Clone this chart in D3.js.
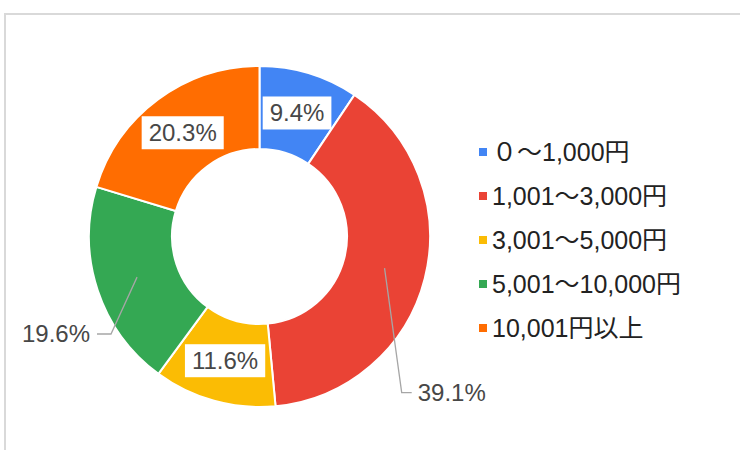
<!DOCTYPE html>
<html>
<head>
<meta charset="utf-8">
<script src="https://cdn.jsdelivr.net/npm/d3@7"></script>
<style>
  html, body { margin: 0; padding: 0; background: #fff; }
  svg { display: block; font-family: "Liberation Sans", Arial, "Noto Sans CJK JP", sans-serif; }
</style>
</head>
<body>
<svg id="chart" width="740" height="450"></svg>
<script>
const categories = ["０～1,000円", "1,001～3,000円", "3,001～5,000円", "5,001～10,000円", "10,001円以上"];
const values = [9.4, 39.1, 11.6, 19.6, 20.3];
const labels = ["9.4%", "39.1%", "11.6%", "19.6%", "20.3%"];
const colors = ["#4285F4", "#EA4335", "#FBBC04", "#34A853", "#FF6D01"];

const svg = d3.select("#chart");

// frame (top and left border)
svg.append("line").attr("x1", 5).attr("y1", 14).attr("x2", 740).attr("y2", 14)
  .attr("stroke", "#d9d9d9").attr("stroke-width", 2);
svg.append("line").attr("x1", 5).attr("y1", 13).attr("x2", 5).attr("y2", 450)
  .attr("stroke", "#d9d9d9").attr("stroke-width", 2);

const cx = 259.5, cy = 236.5, rOuter = 170.5, rInner = 87.5;
const g = svg.append("g").attr("transform", `translate(${cx},${cy})`);

const data = categories.map((c, i) => ({ cat: c, value: values[i], label: labels[i], color: colors[i] }));
const pie = d3.pie().value(d => d.value).sort(null);
const arcs = pie(data);
const arc = d3.arc().innerRadius(rInner).outerRadius(rOuter);
const midArc = d3.arc().innerRadius((rInner + rOuter) / 2).outerRadius((rInner + rOuter) / 2);

g.selectAll("path.slice").data(arcs).enter().append("path")
  .attr("class", "slice")
  .attr("d", arc)
  .attr("fill", d => d.data.color)
  .attr("stroke", "#fff")
  .attr("stroke-width", 2);

// labels
const outside = {
  1: { ex: 142.2, ey: 156.2, dir: 1, len: 10, gap: 6 },
  3: { ex: -148.5, ey: 97.5, dir: -1, len: 14, gap: 7 }
};
const fontSize = 24;

arcs.forEach((a, i) => {
  const [mx, my] = midArc.centroid(a);
  if (outside[i]) {
    const o = outside[i];
    const hx = o.ex + o.dir * o.len;
    g.append("path")
      .attr("d", `M${mx},${my}L${o.ex},${o.ey}L${hx},${o.ey}`)
      .attr("fill", "none").attr("stroke", "#a6a6a6").attr("stroke-width", 1.3);
    g.append("text")
      .attr("x", hx + o.dir * o.gap).attr("y", o.ey)
      .attr("dy", "0.35em")
      .attr("text-anchor", o.dir > 0 ? "start" : "end")
      .attr("font-size", fontSize)
      .attr("fill", "#474747")
      .text(a.data.label);
  } else {
    const t = g.append("text")
      .attr("x", mx).attr("y", my)
      .attr("dy", "0.35em")
      .attr("text-anchor", "middle")
      .attr("font-size", fontSize)
      .attr("fill", "#474747")
      .text(a.data.label);
    const bb = t.node().getBBox();
    g.insert("rect", function() { return t.node(); })
      .attr("x", bb.x - 7).attr("y", bb.y - 3)
      .attr("width", bb.width + 14).attr("height", bb.height + 6)
      .attr("fill", "#fff");
  }
});

// legend
const legendY = d3.scaleBand().domain(categories).range([130, 350]);
const lg = svg.append("g");
const items = lg.selectAll("g").data(categories).enter().append("g")
  .attr("transform", d => `translate(479,${legendY(d) + legendY.bandwidth() / 2})`);
items.append("rect").attr("x", 0).attr("y", -4).attr("width", 8).attr("height", 8)
  .attr("fill", (d, i) => colors[i]);
items.append("text").attr("x", 13).attr("y", 0).attr("dy", "0.35em")
  .attr("font-size", 25).attr("fill", "#222")
  .text(d => d);
</script>
</body>
</html>
